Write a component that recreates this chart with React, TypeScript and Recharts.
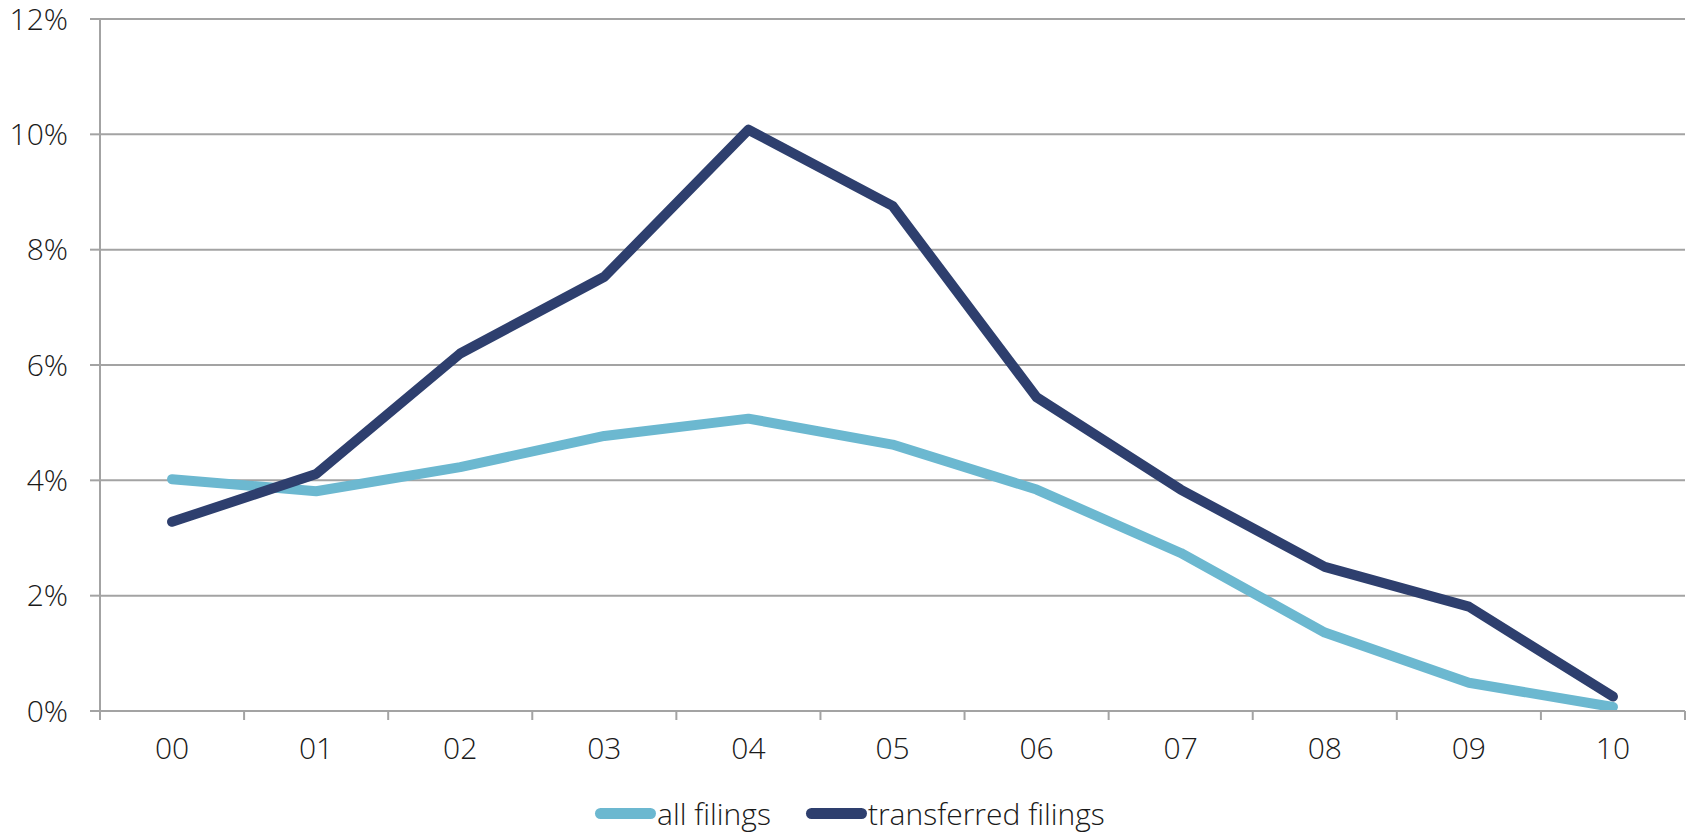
import { LineChart, Line, XAxis, YAxis, CartesianGrid, Legend } from 'recharts';

const years = ['00', '01', '02', '03', '04', '05', '06', '07', '08', '09', '10'];
const allFilings = [4.02, 3.81, 4.23, 4.77, 5.07, 4.62, 3.84, 2.74, 1.36, 0.49, 0.07];
const transferredFilings = [3.28, 4.11, 6.2, 7.53, 10.08, 8.76, 5.44, 3.84, 2.5, 1.81, 0.25];
const yTicks = [0, 2, 4, 6, 8, 10, 12];

const data = years.map((year, i) => ({
  idx: i,
  year,
  all: allFilings[i],
  transferred: transferredFilings[i],
}));

// labels on whole positions, tick marks on the boundaries between years
const xTicks: number[] = [];
years.forEach((_, i) => xTicks.push(i - 0.5, i));
xTicks.push(years.length - 0.5);

const LIGHT = '#6cb8d0';
const NAVY = '#2e3f6e';
const GRID = '#a3a3a3';
const FONT = '"Open Sans", sans-serif';
const X_MARGIN = 26;

function XTick(props: any) {
  const { x, y, payload } = props;
  const v = payload.value;
  if (Number.isInteger(v)) {
    return (
      <text x={x} y={y} dy="0.72em" textAnchor="middle" fontSize={30} fontWeight={300} fill="#1a1a1a" fontFamily={FONT}>
        {years[v]}
      </text>
    );
  }
  const top = y - X_MARGIN;
  return <line x1={x} x2={x} y1={top} y2={top + 9} stroke={GRID} strokeWidth={2} />;
}

function LegendContent() {
  const items = [
    { label: 'all filings', color: LIGHT },
    { label: 'transferred filings', color: NAVY },
  ];
  return (
    <div style={{ display: 'flex', alignItems: 'center', height: 40, paddingTop: 20, paddingLeft: 595, fontFamily: FONT, fontWeight: 300, fontSize: 30, color: '#1a1a1a' }}>
      {items.map((it, i) => (
        <div key={it.label} style={{ display: 'flex', alignItems: 'center', marginRight: i === 0 ? 35 : 0 }}>
          <span style={{ display: 'inline-block', width: 61, height: 11, borderRadius: 6, background: it.color, marginRight: 1 }} />
          <span>{it.label}</span>
        </div>
      ))}
    </div>
  );
}

export default function App() {
  return (
    <div style={{ position: 'absolute', left: 0, top: 0, width: 1688, height: 833, background: '#fff' }}>
      <LineChart width={1688} height={833} data={data} margin={{ top: 19, right: 3, bottom: 0, left: 0 }}>
        <CartesianGrid vertical={false} stroke={GRID} strokeWidth={2} />
        <XAxis
          dataKey="idx"
          type="number"
          domain={[-0.5, years.length - 0.5]}
          ticks={xTicks}
          interval={0}
          height={62}
          tickSize={0}
          tickMargin={X_MARGIN}
          tickLine={false}
          axisLine={{ stroke: GRID, strokeWidth: 2 }}
          tick={<XTick />}
        />
        <YAxis
          domain={[0, 12]}
          ticks={yTicks}
          width={100}
          tickSize={10}
          tickMargin={22}
          tickFormatter={(v) => `${v}%`}
          axisLine={{ stroke: GRID, strokeWidth: 2 }}
          tickLine={{ stroke: GRID, strokeWidth: 2 }}
          tick={{ fontSize: 30, fontWeight: 300, fill: '#1a1a1a', fontFamily: FONT }}
        />
        <Legend verticalAlign="bottom" height={60} content={<LegendContent />} wrapperStyle={{ left: 0, width: 1688 }} />
        <Line
          dataKey="all"
          name="all filings"
          stroke={LIGHT}
          strokeWidth={10}
          strokeLinecap="round"
          strokeLinejoin="round"
          dot={false}
          activeDot={false}
          isAnimationActive={false}
        />
        <Line
          dataKey="transferred"
          name="transferred filings"
          stroke={NAVY}
          strokeWidth={10}
          strokeLinecap="round"
          strokeLinejoin="round"
          dot={false}
          activeDot={false}
          isAnimationActive={false}
        />
      </LineChart>
    </div>
  );
}
